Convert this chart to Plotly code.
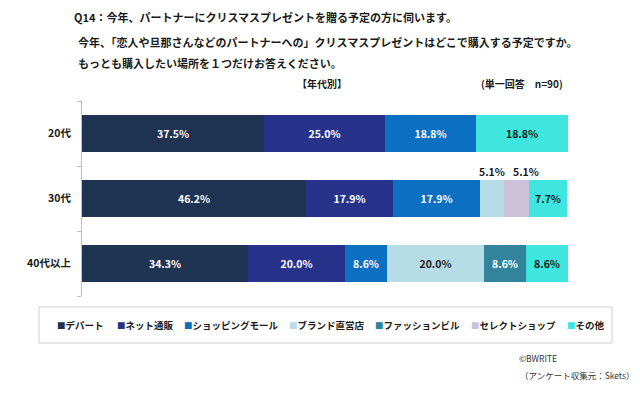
import plotly.graph_objects as go

categories = ["20代", "30代", "40代以上"]
series_names = ["デパート", "ネット通販", "ショッピングモール", "ブランド直営店", "ファッションビル", "セレクトショップ", "その他"]
depart = [37.5, 46.2, 34.3]
net = [25.0, 17.9, 20.0]
mall = [18.8, 17.9, 8.6]
brand = [0.0, 5.1, 20.0]
fashion = [0.0, 0.0, 8.6]
select = [0.0, 5.1, 0.0]
other = [18.8, 7.7, 8.6]
series_values = [depart, net, mall, brand, fashion, select, other]

colors = ["#1f3352", "#27338a", "#0b6fc2", "#b6dce7", "#31849b", "#cdc2da", "#3ee6df"]
text_colors = ["white", "white", "white", "#1a1a1a", "white", "#1a1a1a", "#1a1a1a"]
FONT = "Noto Sans CJK JP"
W, H = 640, 394

def px(x):
    return x / W

def py(y):
    return 1 - y / H

fig = go.Figure()
outside = {(3, 1): 0, (5, 1): 9}
annotations = []
for si, (name, vals) in enumerate(zip(series_names, series_values)):
    texts = []
    for ci, v in enumerate(vals):
        if v == 0 or (si, ci) in outside:
            texts.append("")
        else:
            texts.append(f"<b>{v:.1f}%</b>")
    fig.add_trace(go.Bar(
        name=name, y=categories, x=vals, orientation="h",
        marker=dict(color=colors[si], line=dict(width=0)),
        text=texts, textposition="inside", insidetextanchor="middle",
        textfont=dict(color=text_colors[si], size=10.5, family=FONT),
        width=0.56, showlegend=False, hoverinfo="skip",
    ))
    for ci, v in enumerate(vals):
        if (si, ci) in outside:
            start = sum(series_values[k][ci] for k in range(si))
            annotations.append(dict(
                x=start + v / 2, y=categories[ci], xref="x", yref="y",
                text=f"<b>{v:.1f}%</b>", showarrow=False, yshift=27, xshift=outside[(si, ci)],
                font=dict(size=10.5, color="#1a1a1a", family=FONT)))

title_lines = [
    ("<b>Q14：今年、パートナーにクリスマスプレゼントを贈る予定の方に伺います。</b>", 72, 17),
    ("<b>今年、「恋人や旦那さんなどのパートナーへの」クリスマスプレゼントはどこで購入する予定ですか。</b>", 76, 42),
    ("<b>もっとも購入したい場所を１つだけお答えください。</b>", 76, 63),
]
for t, x, y in title_lines:
    annotations.append(dict(text=t, x=px(x), y=py(y), xref="paper", yref="paper",
                            xanchor="left", yanchor="middle", showarrow=False,
                            font=dict(size=11, color="#1a1a1a", family=FONT)))
annotations.append(dict(text="<b>【年代別】</b>", x=px(322), y=py(84), xref="paper", yref="paper",
                        xanchor="center", yanchor="middle", showarrow=False,
                        font=dict(size=10, color="#1a1a1a", family=FONT)))
annotations.append(dict(text="<b>(単一回答　n=90)</b>", x=px(479), y=py(84), xref="paper", yref="paper",
                        xanchor="left", yanchor="middle", showarrow=False,
                        font=dict(size=10, color="#1a1a1a", family=FONT)))
annotations.append(dict(text="©BWRITE", x=px(517), y=py(358), xref="paper", yref="paper",
                        xanchor="left", yanchor="middle", showarrow=False,
                        font=dict(size=8.5, color="#333333", family=FONT)))
annotations.append(dict(text="（アンケート収集元：Skets）", x=px(518), y=py(375), xref="paper", yref="paper",
                        xanchor="left", yanchor="middle", showarrow=False,
                        font=dict(size=8.5, color="#333333", family=FONT)))

legend_x = [55, 115, 182, 287, 373, 469, 565]
for name, c, lx in zip(series_names, colors, legend_x):
    annotations.append(dict(text=f"<span style='color:{c};font-size:8.5px'>■</span><b>{name}</b>", x=px(lx), y=py(325),
                            xref="paper", yref="paper", xanchor="left", yanchor="middle", showarrow=False,
                            font=dict(size=9.5, color="#1a1a1a", family=FONT)))

shapes = [dict(type="rect", xref="paper", yref="paper",
               x0=px(39), x1=px(612), y0=py(343), y1=py(307),
               line=dict(color="#d0d0d0", width=1), fillcolor="rgba(0,0,0,0)")]

fig.update_layout(
    barmode="stack",
    width=W, height=H,
    margin=dict(l=0, r=0, t=0, b=0, autoexpand=False),
    paper_bgcolor="white", plot_bgcolor="white",
    font=dict(family=FONT, color="#1a1a1a"),
    xaxis=dict(range=[0, 100.2], visible=False, fixedrange=True, domain=[px(82), px(568)]),
    yaxis=dict(autorange=False, range=[2.5, -0.5], showline=True, linecolor="#bfbfbf", linewidth=1,
               domain=[py(296), py(101)], fixedrange=True,
               ticks="outside", tickson="boundaries", ticklen=4, tickcolor="#bfbfbf",
               tickfont=dict(size=10.5, color="#1a1a1a", family=FONT), showgrid=False, zeroline=False,
               ticklabelstandoff=8),
    annotations=annotations,
    shapes=shapes,
    bargap=0,
    hovermode=False,
)
fig.update_yaxes(tickvals=categories, ticktext=[f"<b>{c}</b>" for c in categories])
fig.update_traces(cliponaxis=False)
fig.write_html("out.html", config={"displayModeBar": False},
               post_script="document.body.style.margin='0';")
